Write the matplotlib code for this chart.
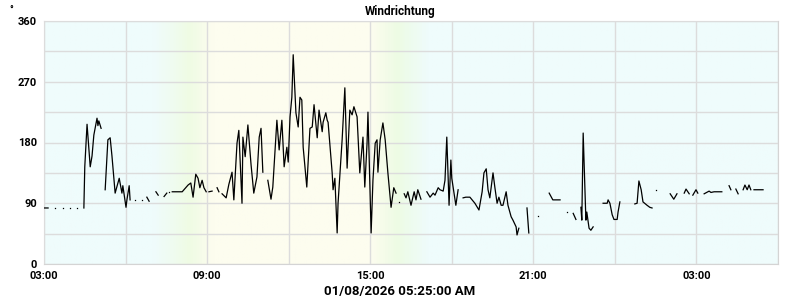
import matplotlib
matplotlib.use('Agg')
import matplotlib.pyplot as plt
from matplotlib.colors import LinearSegmentedColormap
import numpy as np

# Wind direction (degrees), minutes after 03:00; None marks a gap in the data
minutes = [0, 9, None, 24, None, 42, None, 57, None, 73, None,
           88, 90, 95, 102, 106, 110, 117, 119, 121, 126, None,
           135, 141, 146, 150, 157, 166, 172, 174, 181, 183, 188, 190, None,
           201, None, 216, None, 227, 232, None, 247, 252, None, 265, 271, None, 276, None,
           283, 305, 318, 324, 329, 335, 340, 344, 349, 353, 358, None,
           364, 371, None, 382, 386, None,
           393, 402, 408, 415, 419, 426, 430, 437, 439, 444, 450, 457, 463, 470, 475, 479, 483, None,
           494, 501, 505, 514, 519, 525, 530, 536, 539, 543, 547, 550, 556, 561, 565, 569, 572,
           580, 587, 592, 596, 603, 607, 614, 616, 622, 625, 627, 636, 638, 642, 647, 649, 658,
           664, 669, 675, 680, 684, 691, 697, 704, 708, 713, 715, 722, 726, 731, 735, 737, 742,
           748, 753, 759, 766, 772, 777, None,
           784, None, 795, 799, 803, 810, 817, 821, 825, 832, None,
           845, 852, 859, 863, 870, 874, 881, 885, 889, 894, 898, 900, 905, 909, 914, None,
           925, 931, 940, 951, 960, 967, 971, 976, 980, 984, 991, 995, 1000, 1004, 1009, 1013,
           1020, 1024, 1031, 1035, 1042, 1044, 1048, None,
           1066, 1070, None, 1090, None, 1115, 1123, 1139, None, 1154, None, 1168, 1174, None,
           1185, 1187, 1190, 1194, 1196, 1198, 1203, 1207, 1212, None,
           1234, 1243, 1245, 1249, 1254, 1258, 1265, 1267, 1271, None,
           1304, 1309, 1313, 1318, 1322, 1331, 1337, 1342, None,
           1351, None, 1382, 1390, 1397, None, 1413, 1417, 1424, None, 1432, 1439, 1443, None,
           1457, 1468, 1472, 1479, 1496, None, 1512, 1516, None, 1527, 1532, None,
           1543, 1547, 1552, 1556, 1560, None, 1567, 1587]

direction = [83, 83, None, 83, None, 83, None, 83, None, 83, None,
             83, 144, 207, 144, 160, 191, 216, 205, 212, 201, None,
             110, 184, 187, 160, 105, 127, 105, 116, 84, 95, 116, 95, None,
             95, None, 95, None, 99, 93, None, 107, 102, None, 100, 105, None, 106, None,
             107, 107, 117, 120, 99, 133, 127, 113, 124, 113, 107, None,
             107, 108, None, 113, 107, None,
             104, 98, 118, 136, 95, 179, 198, 90, 188, 159, 206, 147, 105, 129, 188, 201, 136, None,
             124, 96, 114, 213, 169, 213, 144, 173, 151, 218, 247, 310, 224, 203, 247, 243, 173,
             114, 201, 203, 236, 187, 228, 196, 210, 224, 213, 210, 135, 110, 127, 46, 90, 184,
             261, 142, 228, 221, 233, 218, 135, 188, 114, 179, 225, 46, 124, 179, 184, 136, 184,
             209, 184, 135, 84, 113, 105, None,
             92, None, 104, 98, 107, 87, 107, 95, 110, 96, None,
             107, 99, 105, 102, 113, 110, 108, 124, 188, 87, 154, 127, 105, 87, 110, None,
             98, 99, 99, 90, 80, 107, 135, 141, 110, 98, 135, 114, 90, 99, 87, 87,
             107, 87, 70, 65, 55, 43, 53, None,
             83, 46, None, 71, None, 105, 95, 95, None, 77, None, 75, 66, None,
             84, 65, 194, 105, 65, 77, 53, 50, 55, None,
             90, 90, 95, 90, 73, 66, 66, 77, 92, None,
             89, 90, 123, 110, 92, 87, 84, 83, None,
             110, None, 104, 96, 104, None, 105, 111, 104, None, 102, 110, 105, None,
             104, 108, 106, 107, 107, None, 116, 110, None, 111, 104, None,
             110, 117, 110, 117, 110, None, 110, 110]

y_ticks = [0, 90, 180, 270, 360]
x_tick_labels = ['03:00', '09:00', '15:00', '21:00', '03:00']
title = 'Windrichtung'
unit = '°'
timestamp = '01/08/2026 05:25:00 AM'

t = np.array([np.nan if m is None else m for m in minutes], dtype=float)
v = np.array([np.nan if d is None else d for d in direction], dtype=float)

font = dict(family=['Roboto', 'DejaVu Sans'], fontweight='bold')

fig = plt.figure(figsize=(8, 3), dpi=100)
ax = fig.add_axes([0.055, 0.12, 0.9175, 0.81])

# day / night background: cyan at night, pale yellow by day, greenish at twilight
x_end = 27 * 60
bg_cmap = LinearSegmentedColormap.from_list('daynight', [
    (0.0, '#effcfc'), (240 / x_end, '#effcfc'), (320 / x_end, '#effbe4'),
    (370 / x_end, '#fdfdef'), (720 / x_end, '#fdfdef'), (780 / x_end, '#edfbe4'),
    (850 / x_end, '#effcfc'), (1.0, '#effcfc')])
ax.imshow(np.linspace(0, 1, 600)[None, :], aspect='auto', cmap=bg_cmap,
          extent=[0, x_end, 0, 360], zorder=0)

ax.set_xlim(0, x_end)
ax.set_ylim(0, 360)
ax.set_xticks(np.arange(0, x_end + 1, 180), minor=True)
ax.set_xticks(np.arange(0, x_end, 360))
ax.set_xticklabels(x_tick_labels, fontsize=8, **font)
ax.set_yticks(np.arange(0, 361, 45), minor=True)
ax.set_yticks(y_ticks)
ax.set_yticklabels([str(y) for y in y_ticks], fontsize=8, **font)
ax.tick_params(which='both', length=0)
ax.tick_params(axis='x', pad=5)
ax.tick_params(axis='y', pad=5)
ax.grid(which='both', color='#dcdcdc', linewidth=1)
ax.set_axisbelow(False)
for s in ax.spines.values():
    s.set_color('#d4d4d4')

ax.plot(t, v, color='black', linewidth=0.9, zorder=3)
# isolated readings show up as single dots
prev = np.r_[np.nan, v[:-1]]
nxt = np.r_[v[1:], np.nan]
lone = ~np.isnan(v) & np.isnan(prev) & np.isnan(nxt)
ax.plot(t[lone], v[lone], 's', color='black', markersize=0.9, markeredgewidth=0, zorder=3)

fig.text(0.5, 0.985, title, ha='center', va='top', fontsize=8.5, **font)
fig.text(0.012, 0.985, unit, ha='left', va='top', fontsize=7, **font)
fig.text(0.5, 0.005, timestamp, ha='center', va='bottom', fontsize=9.5, **font)

fig.savefig('out.png', dpi=100)
